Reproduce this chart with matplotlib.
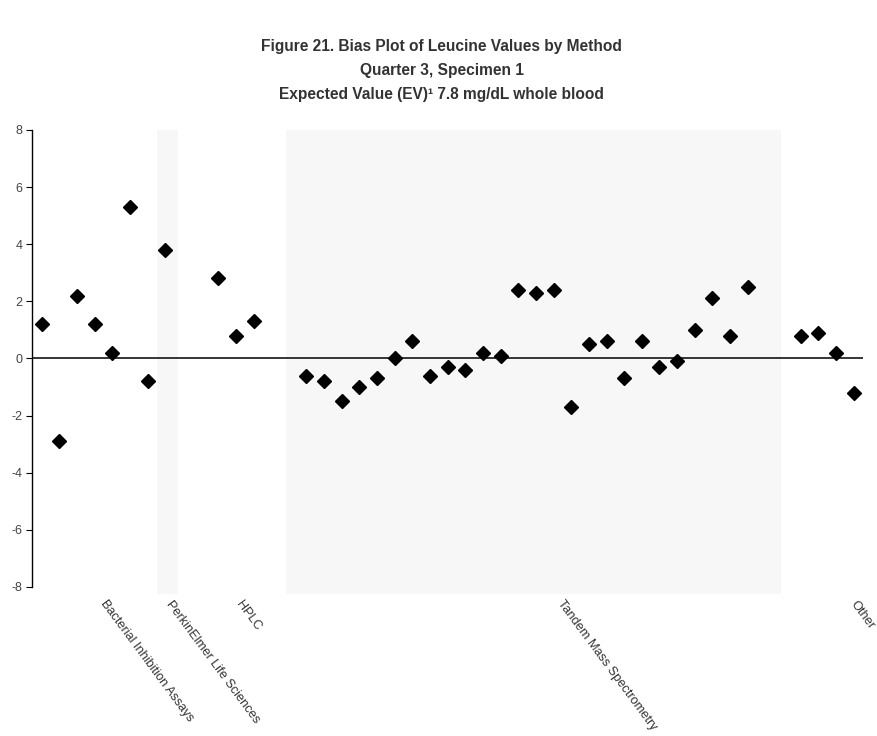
import numpy as np
import matplotlib.pyplot as plt

plt.rcParams['font.family'] = ['Liberation Sans', 'DejaVu Sans']

# bias values (mg/dL) for each method group, in plotting order
bacterial = [1.2, -2.9, 2.2, 1.2, 0.2, 5.3, -0.8]
perkinelmer = [3.8]
hplc = [2.8, 0.8, 1.3]
tandem_ms = [-0.6, -0.8, -1.5, -1.0, -0.7, 0.0, 0.6, -0.6, -0.3, -0.4,
             0.2, 0.1, 2.4, 2.3, 2.4, -1.7, 0.5, 0.6, -0.7, 0.6,
             -0.3, -0.1, 1.0, 2.1, 0.8, 2.5]
other = [0.8, 0.9, 0.2, -1.2]

group_names = ['Bacterial Inhibition Assays', 'PerkinElmer Life Sciences',
               'HPLC', 'Tandem Mass Spectrometry', 'Other']
group_values = [bacterial, perkinelmer, hplc, tandem_ms, other]
group_start = [0, 7, 10, 15, 43]          # slot where each group begins
group_shaded = [False, True, False, True, False]
band_span = [None, (6.53, 7.72), None, (13.84, 41.87), None]
label_pos = [3.75, 7.45, 11.4, 29.6, 46.25]

y_ticks = [-8, -6, -4, -2, 0, 2, 4, 6, 8]

BAND = '#F7F7F7'
TEXT = '#333333'

fig = plt.figure(figsize=(8.78, 7.36), dpi=100)
ax = fig.add_axes([32 / 878, 1 - 594 / 736, (863 - 32) / 878, (594 - 130) / 736])

for name, vals, start, shaded, span in zip(group_names, group_values,
                                            group_start, group_shaded, band_span):
    if shaded:
        ax.axvspan(span[0], span[1], color=BAND, zorder=0, lw=0)
    xs = np.arange(start, start + len(vals))
    ax.plot(xs, vals, linestyle='none', marker='D', markersize=6.7,
            color='black', zorder=3)

# zero reference line
ax.axhline(0, color='black', lw=1.1, zorder=2)

ax.set_xlim(-0.55, 46.53)
ax.set_ylim(-8.25, 8.0)
ax.set_yticks(y_ticks)
ax.set_yticklabels([str(t) for t in y_ticks])
ax.set_xticks([])

for side in ['top', 'right', 'bottom']:
    ax.spines[side].set_visible(False)
ax.spines['left'].set_bounds(-8, 8)
ax.spines['left'].set_linewidth(1.0)
ax.tick_params(axis='y', direction='out', length=4, width=0.8,
               labelsize=9, labelcolor='#444444', pad=3)

# rotated group labels under the plot
for name, xp in zip(group_names, label_pos):
    ax.text(xp, -8.4, name, rotation=-53.5, rotation_mode='anchor',
            ha='left', va='top', fontsize=9.2, color=TEXT)

fig.text(0.503, 1 - 47 / 736, 'Figure 21. Bias Plot of Leucine Values by Method',
         ha='center', va='center', fontsize=11.2, fontweight='bold', color=TEXT)
fig.text(0.503, 1 - 71 / 736, 'Quarter 3, Specimen 1',
         ha='center', va='center', fontsize=11.2, fontweight='bold', color=TEXT)
fig.text(0.503, 1 - 95 / 736, 'Expected Value (EV)\u00b9 7.8 mg/dL whole blood',
         ha='center', va='center', fontsize=11.2, fontweight='bold', color=TEXT)

fig.savefig('out.png', dpi=100, facecolor='white')
